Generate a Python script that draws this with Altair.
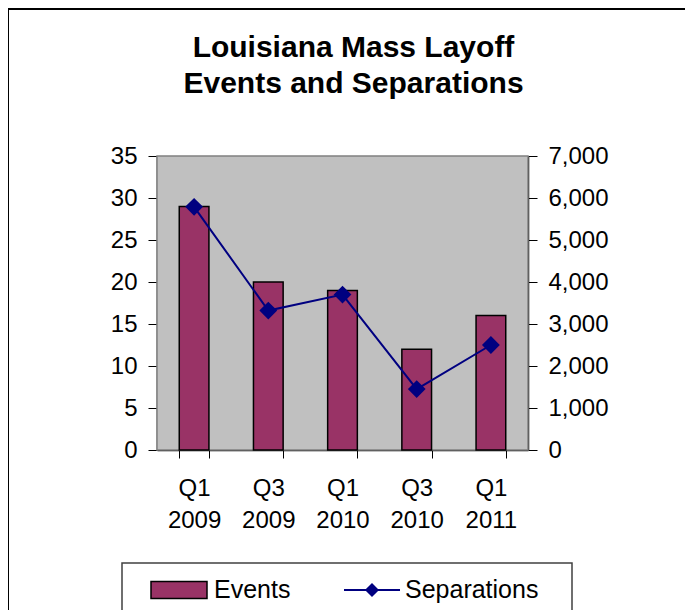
import altair as alt
import pandas as pd

quarters = ["Q1 2009", "Q3 2009", "Q1 2010", "Q3 2010", "Q1 2011"]
events = [29, 20, 19, 12, 16]
separations = [5790, 3320, 3700, 1450, 2500]
bar_series = ["Events"]
line_series = ["Separations"]
bar_color = ["#993366"]
line_color = ["#000080"]
events_ticks = [0, 5, 10, 15, 20, 25, 30, 35]
sep_ticks = [0, 1000, 2000, 3000, 4000, 5000, 6000, 7000]

FONT = "Liberation Sans"
EV_PATH = "M-1,-0.3H1V0.3H-1Z"
SEP_PATH = "M-1,0H1M-0.2,0L0,-0.2L0.2,0L0,0.2Z"

df = pd.DataFrame({
    "quarter": quarters,
    "events": events,
    "separations": separations,
    "bar_series": bar_series * len(quarters),
    "line_series": line_series * len(quarters),
})

x_enc = alt.X(
    "quarter:N", sort=quarters, title=None,
    scale=alt.Scale(paddingInner=0.6, paddingOuter=0.3),
    axis=alt.Axis(
        labelAngle=0, labelExpr="split(datum.label, ' ')",
        labelFont=FONT, labelFontSize=24, labelLineHeight=32, labelColor="black",
        labelPadding=18, tickBand="extent", tickSize=8, tickColor="black",
        domainColor="black", domainWidth=1.5, grid=False,
    ),
)

plot_bg = alt.Chart(alt.Data(values=[{}])).mark_rect(fill="#C0C0C0", stroke="#808080", strokeWidth=1.5).encode(
    x=alt.value(0), x2=alt.value(371), y=alt.value(0), y2=alt.value(294)
)

bars = alt.Chart(df).mark_bar(stroke="black", strokeWidth=1.5).encode(
    x=x_enc,
    y=alt.Y(
        "events:Q", title=None,
        scale=alt.Scale(domain=[0, 35], nice=False),
        axis=alt.Axis(
            orient="left", values=events_ticks, grid=False,
            labelFont=FONT, labelFontSize=24, labelColor="black", labelPadding=11,
            tickSize=9, tickColor="black", domainColor="black", domainWidth=1.5,
        ),
    ),
    color=alt.Color(
        "bar_series:N",
        scale=alt.Scale(domain=bar_series, range=bar_color),
        legend=alt.Legend(
            orient="none", legendX=-7, legendY=405, direction="horizontal",
            title=None, labelFont=FONT, labelFontSize=25, labelColor="black",
            symbolSize=3136, symbolType=EV_PATH, symbolStrokeWidth=1.5,
            symbolStrokeColor="black", labelOffset=6,
        ),
    ),
)

line = alt.Chart(df).mark_line(
    strokeWidth=2,
    point=alt.OverlayMarkDef(shape="diamond", filled=True, size=225, color="#000080"),
).encode(
    x=x_enc,
    y=alt.Y(
        "separations:Q", title=None,
        scale=alt.Scale(domain=[0, 7000], nice=False),
        axis=alt.Axis(
            orient="right", values=sep_ticks, format=",d", grid=False,
            labelFont=FONT, labelFontSize=24, labelColor="black", labelPadding=11,
            tickSize=9, tickColor="black", domainColor="black", domainWidth=1.5,
        ),
    ),
    stroke=alt.Stroke(
        "line_series:N",
        scale=alt.Scale(domain=line_series, range=line_color),
        legend=alt.Legend(
            orient="none", legendX=186, legendY=405, direction="horizontal",
            title=None, labelFont=FONT, labelFontSize=25, labelColor="black",
            symbolSize=3136, symbolType=SEP_PATH, symbolStrokeWidth=2,
            symbolFillColor="#000080", labelOffset=4,
        ),
    ),
)

deco = alt.Data(values=[{}])
outer_border = alt.Chart(deco).mark_rect(
    fill="white", fillOpacity=0, stroke="black", strokeOpacity=1, strokeWidth=2, clip=False
).encode(
    x=alt.value(-149), x2=alt.value(560), y=alt.value(-147), y2=alt.value(500)
)
legend_box = alt.Chart(deco).mark_rect(fill="white", stroke="#404040", strokeWidth=1.5, clip=False).encode(
    x=alt.value(-35), x2=alt.value(415), y=alt.value(407), y2=alt.value(480)
)

chart = alt.layer(outer_border, legend_box, plot_bg, bars, line).resolve_scale(
    y="independent"
).properties(
    width=371, height=294,
    autosize=alt.AutoSizeParams(type="none"),
    padding={"left": 149, "top": 148, "right": 157, "bottom": 160},
    title=alt.Title(
        ["Louisiana Mass Layoff", "Events and Separations"],
        font=FONT, fontSize=30, fontWeight="bold", color="black",
        lineHeight=36, anchor="middle", frame="group", offset=-91, dx=11,
    ),
).configure_view(
    stroke=None
).configure(background="white")

chart.save("out.html", embed_options={"renderer": "svg", "actions": False})
